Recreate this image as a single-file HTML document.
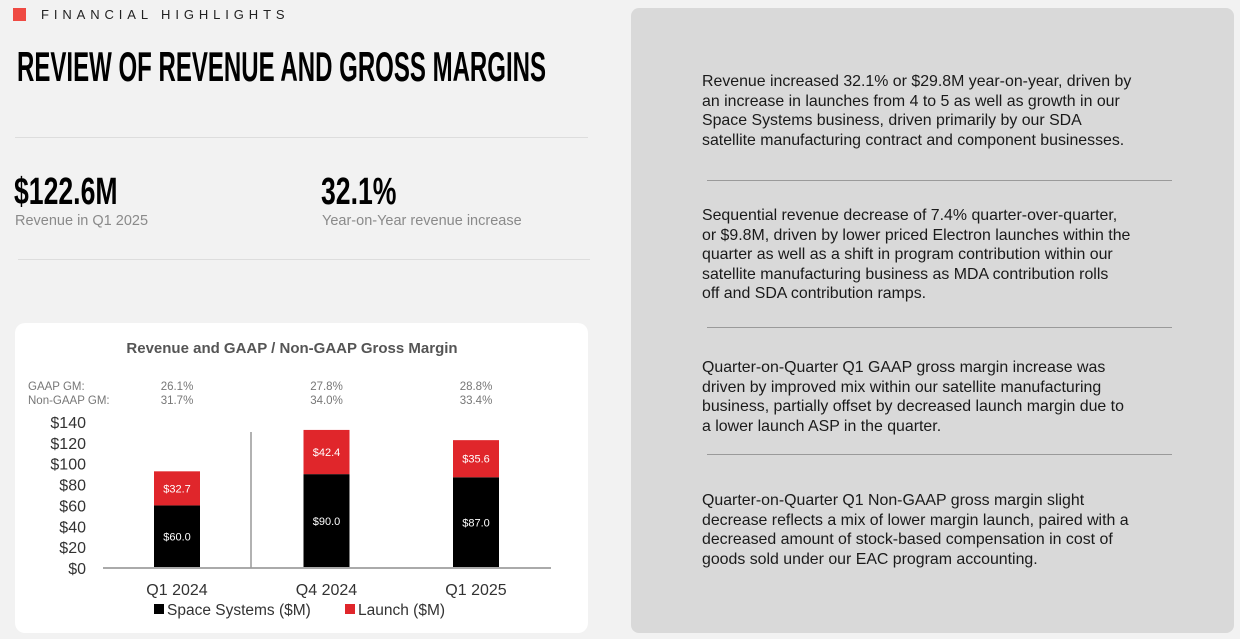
<!DOCTYPE html>
<html><head><meta charset="utf-8">
<style>
body{margin:0;width:1240px;height:639px;background:#f2f2f2;font-family:"Liberation Sans",sans-serif;position:relative;overflow:hidden}
.a{position:absolute;white-space:nowrap}
.p{position:absolute;left:702px;font-size:15.9px;line-height:19.5px;color:#1a1a1a;white-space:nowrap}
.hr{position:absolute;height:1px;background:#9a9a9a}
</style></head><body>
<div class="a" style="left:13px;top:8px;width:13px;height:13px;background:#ef4a43"></div>
<div class="a" style="left:41px;top:7px;font-size:13px;letter-spacing:4.9px;color:#222">FINANCIAL HIGHLIGHTS</div>
<div class="a" style="left:17px;top:43px;font-size:42px;font-weight:bold;color:#000;transform:scaleX(0.572);transform-origin:left top">REVIEW OF REVENUE AND GROSS MARGINS</div>
<div class="hr" style="left:15px;top:137px;width:573px;background:#ddd"></div>
<div class="a" style="left:14px;top:171px;font-size:38px;font-weight:bold;transform:scaleX(0.7);transform-origin:left top">$122.6M</div>
<div class="a" style="left:15px;top:213px;font-size:14.5px;color:#8a8a8a">Revenue in Q1 2025</div>
<div class="a" style="left:321px;top:171px;font-size:38px;font-weight:bold;transform:scaleX(0.7);transform-origin:left top">32.1%</div>
<div class="a" style="left:322px;top:213px;font-size:14.5px;color:#8a8a8a">Year-on-Year revenue increase</div>
<div class="hr" style="left:18px;top:259px;width:572px;background:#ddd"></div>

<div class="a" style="left:15px;top:323px;width:573px;height:310px;background:#fff;border-radius:10px"></div>
<svg class="a" style="left:0;top:0" width="600" height="639" id="chart"></svg>

<div class="a" style="left:631px;top:8px;width:603px;height:625px;background:#d9d9d9;border-radius:8px"></div>
<div class="p" style="top:72px">Revenue increased 32.1% or $29.8M year-on-year, driven by<br>an increase in launches from 4 to 5 as well as growth in our<br>Space Systems business, driven primarily by our SDA<br>satellite manufacturing contract and component businesses.</div>
<div class="hr" style="left:707px;top:180px;width:465px"></div>
<div class="p" style="top:206px">Sequential revenue decrease of 7.4% quarter-over-quarter,<br>or $9.8M, driven by lower priced Electron launches within the<br>quarter as well as a shift in program contribution within our<br>satellite manufacturing business as MDA contribution rolls<br>off and SDA contribution ramps.</div>
<div class="hr" style="left:707px;top:327px;width:465px"></div>
<div class="p" style="top:358px">Quarter-on-Quarter Q1 GAAP gross margin increase was<br>driven by improved mix within our satellite manufacturing<br>business, partially offset by decreased launch margin due to<br>a lower launch ASP in the quarter.</div>
<div class="hr" style="left:707px;top:454px;width:465px"></div>
<div class="p" style="top:491px">Quarter-on-Quarter Q1 Non-GAAP gross margin slight<br>decrease reflects a mix of lower margin launch, paired with a<br>decreased amount of stock-based compensation in cost of<br>goods sold under our EAC program accounting.</div>

<script>
const categories=["Q1 2024","Q4 2024","Q1 2025"];
const spaceSystems=[60.0,90.0,87.0];
const launch=[32.7,42.4,35.6];
const gaapGM=["26.1%","27.8%","28.8%"];
const nonGaapGM=["31.7%","34.0%","33.4%"];
const yTicks=[0,20,40,60,80,100,120,140];
const NS="http://www.w3.org/2000/svg";
const svg=document.getElementById('chart');
const y0=568,pxPer=146/140;
const y=v=>y0-v*pxPer;
const xc=i=>177+i*149.5;
const bw=46;
function el(tag,attrs,txt){const e=document.createElementNS(NS,tag);for(const k in attrs)e.setAttribute(k,attrs[k]);if(txt!==undefined)e.textContent=txt;svg.appendChild(e);return e;}
let t=el('text',{x:292,y:353,'text-anchor':'middle','font-size':15,'font-weight':'bold',fill:'#555'},'Revenue and GAAP / Non-GAAP Gross Margin');


t=el('text',{x:28,y:390,'font-size':11.5,fill:'#777'},'GAAP GM:');


t=el('text',{x:28,y:404,'font-size':11.5,fill:'#777'},'Non-GAAP GM:');


yTicks.forEach(v=>{
  const e=el('text',{x:86,y:y(v)+6,'text-anchor':'end','font-size':16,fill:'#333'},'$'+v);
  
  
});
categories.forEach((c,i)=>{
  const x=xc(i);
  let e=el('text',{x:x,y:390,'text-anchor':'middle','font-size':11.5,fill:'#777'},gaapGM[i]);
  
  
  e=el('text',{x:x,y:404,'text-anchor':'middle','font-size':11.5,fill:'#777'},nonGaapGM[i]);
  
  
  e=el('rect',{x:x-bw/2,y:y(spaceSystems[i]),width:bw,height:spaceSystems[i]*pxPer,fill:'#000'});
  
  
  e=el('rect',{x:x-bw/2,y:y(spaceSystems[i]+launch[i]),width:bw,height:launch[i]*pxPer,fill:'#e0262b'});
  
  
  e=el('text',{x:x,y:(y(0)+y(spaceSystems[i]))/2+4,'text-anchor':'middle','font-size':11,fill:'#fff'},'$'+spaceSystems[i].toFixed(1));
  
  
  e=el('text',{x:x,y:(y(spaceSystems[i])+y(spaceSystems[i]+launch[i]))/2+4,'text-anchor':'middle','font-size':11,fill:'#fff'},'$'+launch[i].toFixed(1));
  
  
  e=el('text',{x:x,y:595,'text-anchor':'middle','font-size':16,fill:'#333'},c);
  
  
});
let ax=el('line',{x1:103,y1:y0,x2:551,y2:y0,stroke:'#aaa','stroke-width':2});


ax=el('line',{x1:251,y1:432,x2:251,y2:y0,stroke:'#999','stroke-width':1.5});


let lg=el('rect',{x:154,y:604,width:10,height:10,fill:'#000'});


lg=el('text',{x:167,y:615,'font-size':15.5,fill:'#333'},'Space Systems ($M)');


lg=el('rect',{x:345,y:604,width:10,height:10,fill:'#e0262b'});


lg=el('text',{x:358,y:615,'font-size':15.5,fill:'#333'},'Launch ($M)');


</script>
</body></html>
